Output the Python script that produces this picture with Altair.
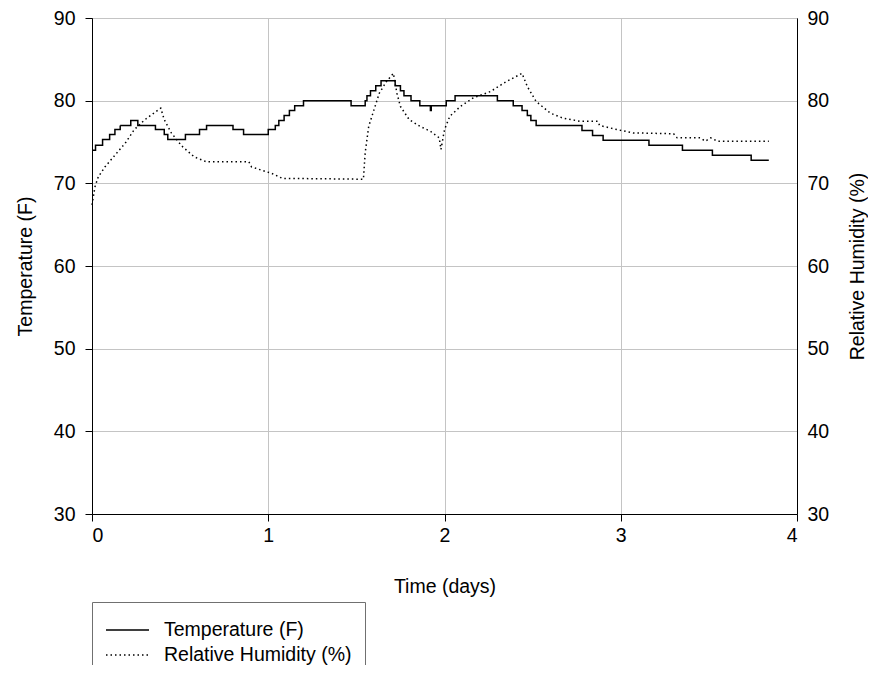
import altair as alt
import pandas as pd

# Temperature (F): step changes (time in days, value)
t_days = [0.00, 0.02, 0.06, 0.10, 0.13, 0.16, 0.22, 0.26, 0.36, 0.41,
          0.43, 0.53, 0.61, 0.65, 0.80, 0.86, 1.00, 1.04, 1.06, 1.09,
          1.12, 1.15, 1.20, 1.47, 1.55, 1.56, 1.58, 1.61, 1.64, 1.72,
          1.75, 1.77, 1.81, 1.86, 1.92, 1.925, 2.01, 2.06, 2.30, 2.39,
          2.44, 2.47, 2.49, 2.52, 2.78, 2.84, 2.90, 3.16, 3.35, 3.52,
          3.74, 3.84]
temps = [74.0, 74.6, 75.3, 75.9, 76.5, 77.0, 77.6, 77.0, 76.5, 75.9,
         75.3, 75.9, 76.5, 77.0, 76.5, 75.9, 76.5, 77.0, 77.6, 78.2,
         78.8, 79.4, 80.0, 79.4, 80.0, 80.6, 81.2, 81.8, 82.4, 81.8,
         81.2, 80.6, 80.0, 79.4, 78.8, 79.4, 80.0, 80.6, 80.0, 79.4,
         78.8, 78.2, 77.6, 77.0, 76.4, 75.8, 75.2, 74.6, 74.0, 73.4,
         72.8, 72.8]

# Relative humidity (%)
h_days = [0.00, 0.017, 0.036, 0.074, 0.13, 0.19, 0.24, 0.30, 0.39, 0.41,
          0.45, 0.51, 0.58, 0.65, 0.89, 0.905, 0.96, 1.02, 1.08, 1.54,
          1.55, 1.57, 1.60, 1.63, 1.67, 1.71, 1.73, 1.75, 1.80, 1.86,
          1.92, 1.97, 1.98, 2.00, 2.03, 2.09, 2.16, 2.26, 2.35, 2.44,
          2.47, 2.52, 2.60, 2.67, 2.77, 2.87, 2.88, 2.98, 3.07, 3.30,
          3.32, 3.45, 3.48, 3.51, 3.55, 3.84]
rh = [67.4, 69.6, 70.8, 72.0, 73.4, 74.9, 76.5, 77.7, 79.1, 77.7,
      76.1, 74.5, 73.2, 72.6, 72.6, 72.0, 71.6, 71.2, 70.6, 70.5,
      73.7, 76.9, 78.9, 80.9, 82.3, 83.3, 80.9, 79.3, 77.7, 76.9,
      76.3, 75.5, 74.1, 76.5, 78.1, 79.3, 80.3, 81.1, 82.3, 83.3,
      81.7, 79.9, 78.5, 77.9, 77.5, 77.5, 77.0, 76.5, 76.1, 76.0,
      75.5, 75.5, 75.1, 75.5, 75.1, 75.1]

series_names = ["Temperature (F)", "Relative Humidity (%)"]
x_ticks = [0, 1, 2, 3, 4]
y_ticks = [30, 40, 50, 60, 70, 80, 90]

temp_df = pd.DataFrame({"day": t_days, "value": temps, "series": series_names[0]})
rh_df = pd.DataFrame({"day": h_days, "value": rh, "series": series_names[1]})

FONT = "Liberation Sans"
FS = 19.5

x_enc = alt.X(
    "day:Q",
    scale=alt.Scale(domain=[0, 4], nice=False, zero=False),
    axis=alt.Axis(values=x_ticks, title="Time (days)", format="d",
                  tickSize=7, labelPadding=5, grid=True,
                  titleY=78, titleBaseline="alphabetic"),
)

y_scale = alt.Scale(domain=[30, 90], nice=False, zero=False)

dash = alt.StrokeDash(
    "series:N",
    scale=alt.Scale(domain=series_names, range=[[1, 0], [1.5, 3]]),
    legend=alt.Legend(
        orient="none", legendX=0, legendY=584,
        title=" ", titleFontSize=7, titlePadding=0,
        padding=13, strokeColor="#707070",
        symbolType="stroke", symbolSize=1849, symbolStrokeWidth=1.5,
        symbolStrokeColor="black",
        labelFont=FONT, labelFontSize=FS, labelColor="black",
        labelOffset=14, labelLimit=400, clipHeight=16, rowPadding=5,
    ),
)

temp_line = alt.Chart(temp_df).mark_line(
    interpolate="step-after", color="black", strokeWidth=1.5
).encode(
    x=x_enc,
    y=alt.Y("value:Q", scale=y_scale,
            axis=alt.Axis(orient="left", values=y_ticks, title="Temperature (F)",
                          tickSize=7, labelPadding=10, grid=True,
                          titleAngle=270, titleX=-61, titleY=248,
                          titleAlign="center", titleBaseline="alphabetic")),
    strokeDash=dash,
)

rh_line = alt.Chart(rh_df).mark_line(
    color="black", strokeWidth=1.5
).encode(
    x=x_enc,
    y=alt.Y("value:Q", scale=y_scale,
            axis=alt.Axis(orient="right", values=y_ticks, title="Relative Humidity (%)",
                          ticks=False, labelPadding=10, grid=False,
                          titleAngle=270, titleX=66, titleY=248,
                          titleAlign="center", titleBaseline="alphabetic")),
    strokeDash=dash,
)

chart = alt.layer(temp_line, rh_line).resolve_scale(
    y="independent"
).properties(
    width=705, height=496,
    autosize=alt.AutoSizeParams(type="none"),
    padding={"left": 84, "top": 10, "right": 71, "bottom": 151},
    background="white",
).configure_view(
    stroke="black", strokeWidth=1
).configure_axis(
    labelFont=FONT, labelFontSize=FS, labelColor="black",
    titleFont=FONT, titleFontSize=FS, titleFontWeight="normal", titleColor="black",
    domainColor="black", domainWidth=1, tickColor="black", tickWidth=1,
    gridColor="#c4c4c4", gridWidth=1,
)

chart.save("out.html", embed_options={"renderer": "svg", "actions": False})
